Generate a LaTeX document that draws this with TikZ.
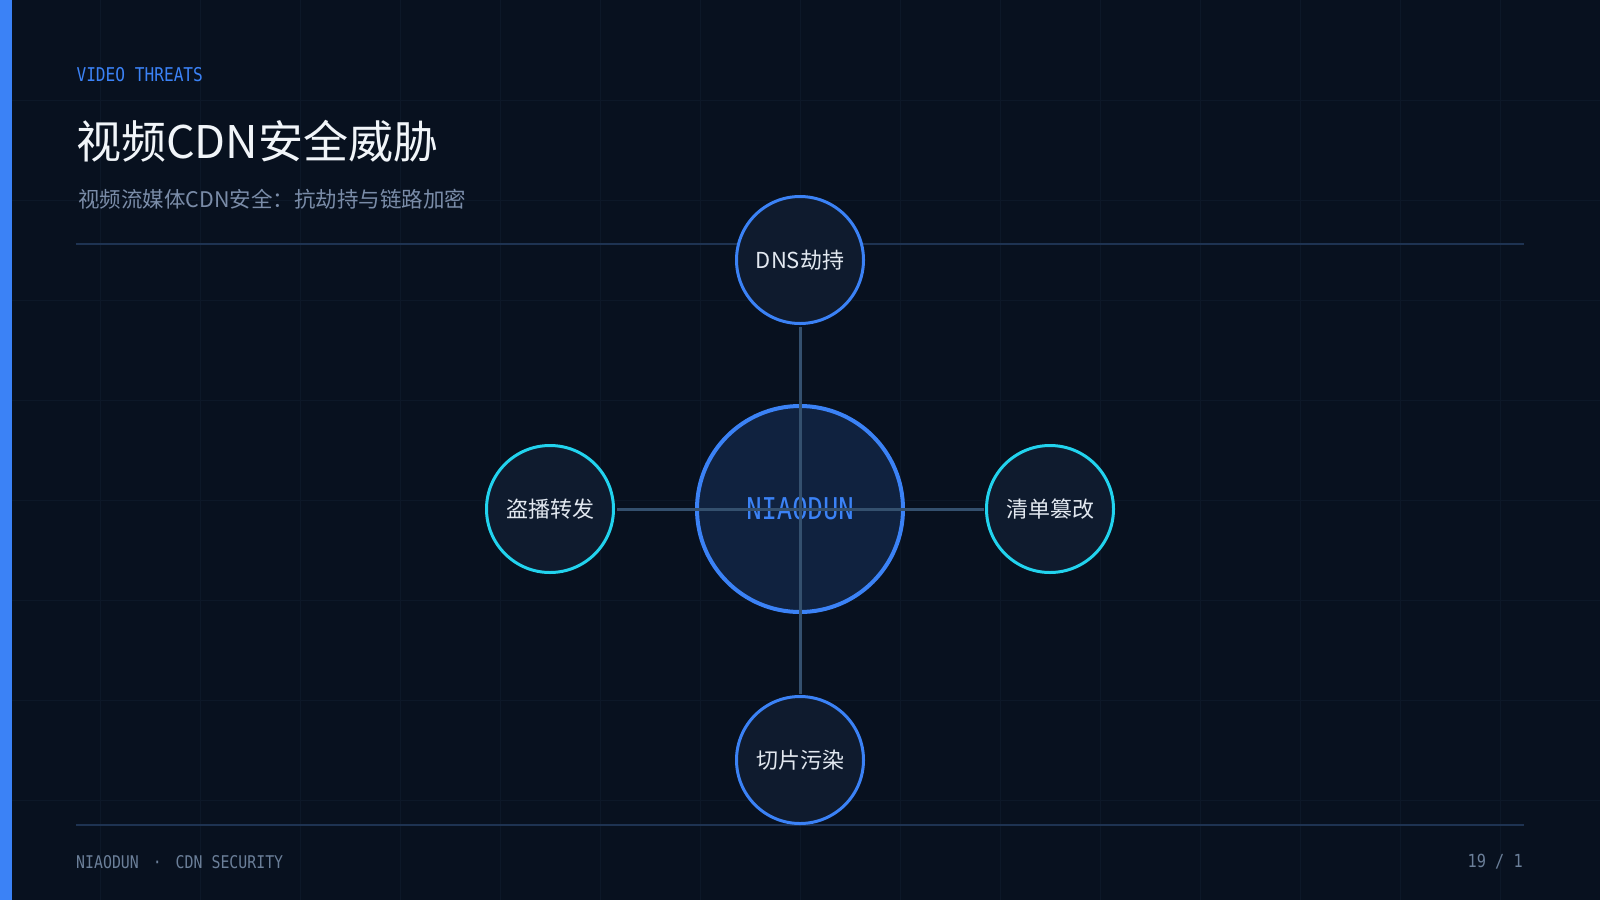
\documentclass[tikz,border=0pt]{standalone}
\usepackage{fontspec}
\setmainfont{Noto Sans CJK SC}
\newfontfamily\monofont[FakeStretch=0.85]{DejaVu Sans Mono}

\definecolor{pagebg}{HTML}{08111F}
\definecolor{gridcol}{HTML}{0D1828}
\definecolor{accent}{HTML}{3B82F6}
\definecolor{cyanring}{HTML}{22D3EE}
\definecolor{rulecol}{HTML}{1E3352}
\definecolor{linkcol}{HTML}{34506E}
\definecolor{nodefill}{HTML}{0F1B2E}
\definecolor{hubfill}{HTML}{10223F}
\definecolor{titlecol}{HTML}{F1F5F9}
\definecolor{subcol}{HTML}{7A8CA8}
\definecolor{footcol}{HTML}{6B7F99}
\definecolor{labelcol}{HTML}{E2E8F0}

\tikzset{
  gridline/.style={draw=gridcol, line width=1pt},
  rule/.style={draw=rulecol, line width=2pt},
  link/.style={draw=linkcol, line width=3pt, shorten >=1.5pt},
  threat/.style={circle, minimum size=127pt, inner sep=0pt, line width=3pt,
    fill=nodefill, text=labelcol, font=\fontsize{22}{26}\selectfont},
  hub/.style={circle, minimum size=206pt, inner sep=0pt, line width=4pt,
    draw=accent, fill=hubfill, text=accent, font=\monofont\fontsize{30}{34}\selectfont},
}

\begin{document}
\begin{tikzpicture}[x=1pt, y=-1pt]
\useasboundingbox (0,0) rectangle (1600,900);
\fill[pagebg] (0,0) rectangle (1600,900);
% faint grid
\foreach \gx in {100,200,...,1500} \draw[gridline] (\gx,0) -- (\gx,900);
\foreach \gy in {100,200,...,800} \draw[gridline] (0,\gy) -- (1600,\gy);
\fill[accent] (0,0) rectangle (12,900);
\draw[rule] (76,244) -- (1524,244);
\draw[rule] (76,825) -- (1524,825);

\node[anchor=west, text=accent, font=\monofont\fontsize{19}{22}\selectfont] (kicker) at (73,75) {VIDEO THREATS};
\node[anchor=west, text=titlecol, font=\fontsize{45}{52}\selectfont, inner sep=0pt] (title) at (76,141) {视频CDN安全威胁};
\node[anchor=west, text=subcol, font=\fontsize{21.5}{25}\selectfont, inner sep=0pt] (subtitle) at (78,199) {视频流媒体CDN安全：抗劫持与链路加密};
\node[anchor=west, text=footcol, font=\monofont\fontsize{17.5}{21}\selectfont, inner sep=0pt] (footer) at (76,862) {NIAODUN\hspace{5pt} · \hspace{5pt}CDN SECURITY};
\node[anchor=east, text=footcol, font=\monofont\fontsize{18}{21}\selectfont, inner sep=0pt] (pageno) at (1523,862) {19 / 1};

\node[hub] (core) at (800,509) {NIAODUN};
\node[threat, draw=accent] (dns) at (800,260) {DNS劫持};
\node[threat, draw=accent] (slice) at (800,760) {切片污染};
\node[threat, draw=cyanring] (piracy) at (550,509) {盗播转发};
\node[threat, draw=cyanring] (manifest) at (1050,509) {清单篡改};

\draw[link] (core.center) -- (dns);
\draw[link] (core.center) -- (slice);
\draw[link] (core.center) -- (piracy);
\draw[link] (core.center) -- (manifest);
\end{tikzpicture}
\end{document}
